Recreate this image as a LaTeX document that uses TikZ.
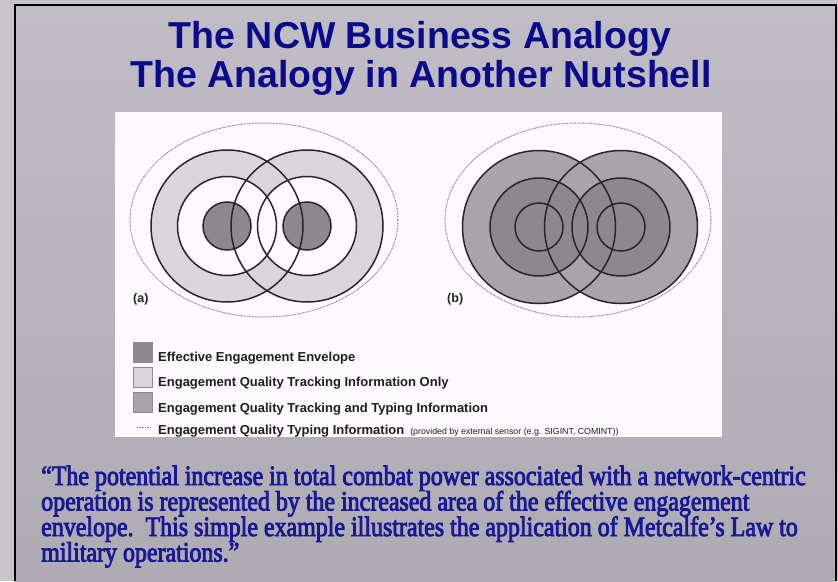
\documentclass[tikz,border=0pt]{standalone}
\usepackage{fontspec}
\setmainfont{Liberation Sans}
\newfontfamily\quotefont[FakeStretch=0.855,FakeBold=3]{Liberation Serif}
\definecolor{outerbg}{RGB}{200,198,202}
\definecolor{slidetop}{RGB}{192,189,196}
\definecolor{slidebot}{RGB}{174,171,178}
\definecolor{titleblue}{RGB}{10,10,140}
\definecolor{quoteblue}{RGB}{25,25,150}
\definecolor{panel}{RGB}{253,250,253}
\definecolor{lightring}{RGB}{216,214,217}
\definecolor{midring}{RGB}{168,165,170}
\definecolor{darkcore}{RGB}{140,136,142}
\definecolor{ringline}{RGB}{40,38,42}
\tikzset{
  ringedge/.style={draw=ringline,line width=1.5pt},
  envelope/.style={draw=black!50,line width=1pt,dash pattern=on 0.8pt off 0.8pt},
  legbox/.style={minimum width=19pt,minimum height=20pt,inner sep=0pt,draw=black!45,line width=0.8pt},
  legtext/.style={anchor=base west,inner sep=0pt,font=\bfseries\fontsize{13}{15}\selectfont,text=black!88},
  panlabel/.style={anchor=base west,inner sep=0pt,font=\bfseries\fontsize{12.5}{14}\selectfont,text=black!85},
  titletext/.style={anchor=base,inner sep=0pt,text=titleblue,font=\bfseries\fontsize{37.5}{40}\selectfont},
  quotetext/.style={anchor=base west,inner sep=0pt,text=quoteblue,font=\quotefont\fontsize{28}{30}\selectfont},
}
\begin{document}
\begin{tikzpicture}[x=1pt,y=-1pt]
\useasboundingbox (0,0) rectangle (838,581);
\fill[outerbg] (0,0) rectangle (838,581);
\shade[top color=slidetop,bottom color=slidebot] (15,5) rectangle (836,581);
\draw[black,line width=1.5pt] (15,581) -- (15,5) -- (836,5) -- (836,581);

% title
\node[titletext] (t1) at (420,48) {The NCW Business Analogy};
\node[titletext] (t2) at (421,87) {The Analogy in Another Nutshell};

% panel
\fill[panel] (115,112) rectangle (722,437);

% diagram (a)
\draw[envelope] (264,220) ellipse [x radius=134pt, y radius=97pt];
\fill[lightring] (227,226) circle[radius=76pt] (307,226) circle[radius=76pt];
\fill[panel] (227,226) circle[radius=49.5pt] (307,226) circle[radius=49.5pt];
\fill[darkcore] (227,226) circle[radius=24pt] (307,226) circle[radius=24pt];
\draw[ringedge] (227,226) circle[radius=76pt] (307,226) circle[radius=76pt];
\draw[ringedge] (227,226) circle[radius=49.5pt] (307,226) circle[radius=49.5pt];
\draw[ringedge] (227,226) circle[radius=24pt] (307,226) circle[radius=24pt];
\node[panlabel] (la) at (133,302) {(a)};

% diagram (b)
\draw[envelope] (578,220) ellipse [x radius=133pt, y radius=97pt];
\fill[midring] (539,227) circle[radius=76.5pt] (621,227) circle[radius=76.5pt];
\fill[darkcore] (539,227) circle[radius=49pt] (621,227) circle[radius=49pt];
\draw[ringedge] (539,227) circle[radius=76.5pt] (621,227) circle[radius=76.5pt];
\draw[ringedge] (539,227) circle[radius=49pt] (621,227) circle[radius=49pt];
\draw[ringedge] (539,227) circle[radius=24pt] (621,227) circle[radius=24pt];
\node[panlabel] (lb) at (447,302) {(b)};

% legend
\node[legbox,fill=darkcore] (k1) at (143,352) {};
\node[legbox,fill=lightring] (k2) at (143,377) {};
\node[legbox,fill=midring] (k3) at (143,402) {};
\coordinate (d1) at (137,427);
\coordinate (d2) at (151,427);
\draw[envelope] (d1) -- (d2);
\node[legtext] (e1) at (158,361) {Effective Engagement Envelope};
\node[legtext] (e2) at (158,386) {Engagement Quality Tracking Information Only};
\node[legtext] (e3) at (158,412) {Engagement Quality Tracking and Typing Information};
\node[legtext] (e4) at (158,434) {Engagement Quality Typing Information {\mdseries\fontsize{8.8}{10}\selectfont\ (provided by external sensor (e.g. SIGINT, COMINT))}};

% quote
\node[quotetext] (q1) at (41,485) {“The potential increase in total combat power associated with a network-centric};
\node[quotetext] (q2) at (41,510.5) {operation is represented by the increased area of the effective engagement};
\node[quotetext] (q3) at (41,536) {envelope.\ \ This simple example illustrates the application of Metcalfe’s Law to};
\node[quotetext] (q4) at (41,561.5) {military operations.”};
\end{tikzpicture}
\end{document}
